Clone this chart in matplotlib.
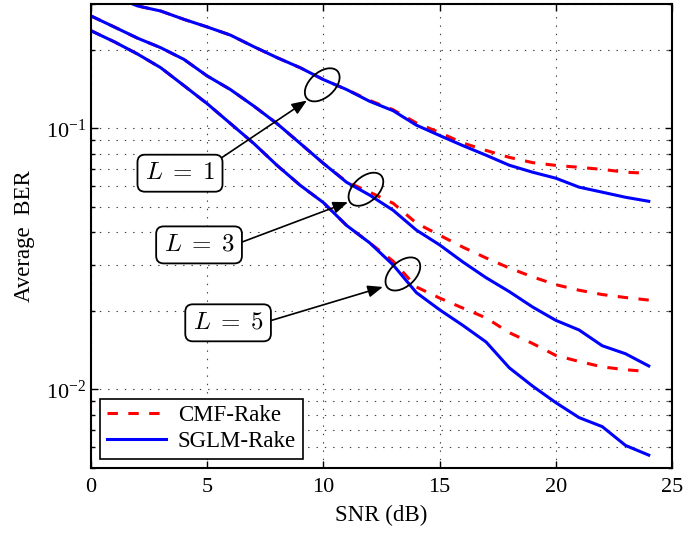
"""
CMF-Rake vs SGLM-Rake 平均误码率曲线
"""
import numpy as np
import matplotlib
matplotlib.use("Agg")
import matplotlib.pyplot as plt
from matplotlib.patches import Ellipse
from matplotlib.lines import Line2D
from matplotlib.transforms import ScaledTranslation

plt.rcParams['font.family'] = ['Liberation Serif', 'DejaVu Serif']
plt.rcParams['mathtext.fontset'] = 'stix'
plt.rcParams['lines.scale_dashes'] = False

# 数据
snr = list(range(25))

sglm_l1 = [0.34, 0.32, 0.295, 0.282, 0.262, 0.245, 0.228, 0.206, 0.187, 0.171,
           0.154, 0.141, 0.127, 0.117, 0.103, 0.094, 0.086, 0.079, 0.0723, 0.068,
           0.0645, 0.0596, 0.057, 0.0545, 0.0526]
cmf_l1 = [0.34, 0.32, 0.295, 0.282, 0.262, 0.245, 0.228, 0.206, 0.187, 0.171,
          0.154, 0.141, 0.128, 0.118, 0.105, 0.0965, 0.088, 0.0824, 0.0775, 0.074,
          0.0722, 0.071, 0.0697, 0.068, 0.0673]

sglm_l3 = [0.270, 0.245, 0.222, 0.204, 0.184, 0.159, 0.141, 0.122, 0.1045, 0.0877,
           0.0735, 0.0622, 0.0555, 0.0486, 0.0408, 0.0358, 0.0308, 0.0268, 0.0237, 0.0207,
           0.0184, 0.0169, 0.0147, 0.0137, 0.0123]
cmf_l3 = [0.270, 0.245, 0.222, 0.204, 0.184, 0.159, 0.141, 0.122, 0.1045, 0.0877,
          0.0735, 0.0625, 0.057, 0.0517, 0.0434, 0.039, 0.0351, 0.0319, 0.0292, 0.027,
          0.0252, 0.024, 0.0231, 0.0225, 0.022]

sglm_l5 = [0.237, 0.215, 0.193, 0.171, 0.146, 0.1245, 0.1045, 0.0877, 0.0723, 0.0606,
           0.052, 0.0425, 0.0364, 0.0300, 0.0235, 0.0202, 0.0176, 0.0152, 0.0121, 0.0103,
           0.0089, 0.0078, 0.0072, 0.0061, 0.0056]
cmf_l5 = [0.237, 0.215, 0.193, 0.171, 0.146, 0.1245, 0.1045, 0.0877, 0.0723, 0.0606,
          0.052, 0.0425, 0.0364, 0.031, 0.0247, 0.0224, 0.0205, 0.0188, 0.0165, 0.015,
          0.0135, 0.0128, 0.0122, 0.0119, 0.0117]

# 标注: 文字框位置, 椭圆中心, 箭头终点
labels = [r'$L\;=\;1$', r'$L\;=\;3$', r'$L\;=\;5$']
text_pos = [(3.83, 0.0674), (4.65, 0.0358), (5.9, 0.018)]
ellipse_pos = [(9.95, 0.147), (11.83, 0.0585), (13.42, 0.0277)]
arrow_tip = [(9.29, 0.128), (11.06, 0.0522), (12.56, 0.0247)]
arrow_rel = [(1.0, 1.0), (1.0, 0.5), (1.0, 0.5)]

fig = plt.figure(figsize=(6.83, 5.33), dpi=100)
ax = fig.add_axes([0.1332, 0.122, 0.8507, 0.8705])

dash = (0, (7.5, 7.5))
for cmf, sglm in [(cmf_l1, sglm_l1), (cmf_l3, sglm_l3), (cmf_l5, sglm_l5)]:
    ax.plot(snr, cmf, color='red', lw=2.2, linestyle=dash)
    ax.plot(snr, sglm, color='blue', lw=2.2)

ax.set_yscale('log')
ax.set_xlim(0, 25)
ax.set_ylim(0.005, 0.3)
ax.set_xticks([0, 5, 10, 15, 20, 25])

ax.grid(True, which='both', axis='y', color='0.25', linestyle=(0, (1, 5)), lw=0.8)
ax.grid(True, which='major', axis='x', color='0.25', linestyle=(0, (1, 5)), lw=0.8)
ax.tick_params(which='both', direction='in', top=True, right=True, labelsize=16)
ax.tick_params(which='major', length=5, width=1)
ax.tick_params(which='minor', length=3, width=1)
ax.tick_params(axis='x', pad=7)
for s in ax.spines.values():
    s.set_linewidth(1.5)

ax.set_xlabel('SNR (dB)', fontsize=16.5, labelpad=6)
ax.set_ylabel('Average  BER', fontsize=16.5, labelpad=8)

# 图例
handles = [Line2D([], [], color='red', lw=2.2, linestyle=dash),
           Line2D([], [], color='blue', lw=2.2)]
leg = ax.legend(handles, ['CMF-Rake', 'SGLM-Rake'], loc='lower left',
                bbox_to_anchor=(9 / 581, 9 / 464), borderaxespad=0,
                fontsize=16.5, fancybox=False, framealpha=1, edgecolor='black',
                handlelength=2.6, handletextpad=0.5, labelspacing=0.2,
                borderpad=0.3)
leg.get_frame().set_linewidth(1.2)

# 椭圆和箭头
for lab, tp, ep, at, rel in zip(labels, text_pos, ellipse_pos, arrow_tip, arrow_rel):
    tr = fig.dpi_scale_trans + ScaledTranslation(ep[0], ep[1], ax.transData)
    ax.add_patch(Ellipse((0, 0), 0.41, 0.25, angle=42, transform=tr,
                         fill=False, edgecolor='black', lw=1.3, zorder=5))
    ax.annotate(lab, xy=at, xytext=tp, ha='center', va='center',
                fontsize=18, math_fontfamily='cm', zorder=6,
                bbox=dict(boxstyle='round,pad=0.3,rounding_size=0.3',
                          fc='white', ec='black', lw=1.3),
                arrowprops=dict(arrowstyle='-|>,head_length=0.5,head_width=0.2',
                                color='black', lw=1.2, relpos=rel,
                                shrinkA=0, shrinkB=0))

fig.savefig('out.png', dpi=100)
